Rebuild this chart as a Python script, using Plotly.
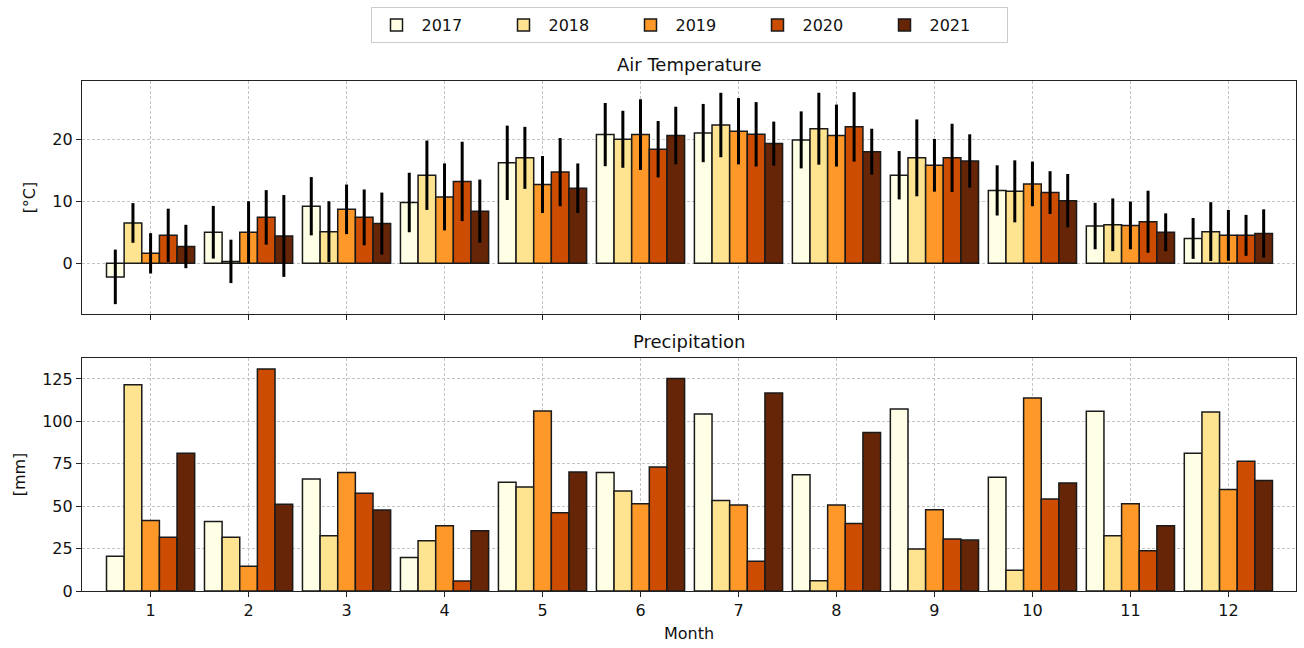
import plotly.graph_objects as go

months = [1, 2, 3, 4, 5, 6, 7, 8, 9, 10, 11, 12]
years = ["2017", "2018", "2019", "2020", "2021"]
colors = ["#ffffe5", "#fee391", "#fe9929", "#cc4c02", "#662506"]

temp_2017 = [-2.2, 5.0, 9.2, 9.8, 16.2, 20.75, 21.0, 19.9, 14.2, 11.75, 6.0, 4.0]
temp_2018 = [6.5, 0.3, 5.1, 14.2, 17.0, 20.0, 22.3, 21.7, 17.0, 11.6, 6.2, 5.1]
temp_2019 = [1.6, 5.0, 8.7, 10.7, 12.7, 20.75, 21.3, 20.6, 15.8, 12.8, 6.1, 4.5]
temp_2020 = [4.5, 7.4, 7.4, 13.2, 14.7, 18.4, 20.8, 22.0, 17.0, 11.4, 6.7, 4.5]
temp_2021 = [2.7, 4.4, 6.4, 8.4, 12.1, 20.6, 19.3, 18.0, 16.5, 10.1, 5.0, 4.8]

err_2017 = [4.4, 4.25, 4.7, 4.8, 6.0, 5.1, 4.7, 4.6, 3.9, 4.05, 3.75, 3.3]
err_2018 = [3.2, 3.5, 4.9, 5.6, 5.0, 4.6, 5.2, 5.8, 6.2, 5.0, 4.25, 4.75]
err_2019 = [3.25, 5.0, 4.0, 5.4, 4.6, 5.7, 5.35, 5.0, 4.25, 3.6, 3.85, 4.1]
err_2020 = [4.3, 4.4, 4.5, 6.4, 5.5, 4.55, 5.2, 5.6, 5.5, 3.45, 5.0, 3.3]
err_2021 = [3.5, 6.6, 5.0, 5.1, 4.0, 4.65, 3.55, 3.7, 4.3, 4.3, 3.05, 3.9]

prec_2017 = [20.5, 41.0, 66.0, 19.7, 64.1, 69.8, 104.3, 68.6, 107.3, 67.0, 105.9, 81.2]
prec_2018 = [121.6, 31.7, 32.5, 29.6, 61.3, 59.0, 53.4, 6.1, 24.8, 12.2, 32.5, 105.5]
prec_2019 = [41.6, 14.6, 69.8, 38.4, 106.1, 51.5, 50.7, 50.7, 47.9, 113.8, 51.5, 59.9]
prec_2020 = [31.7, 130.9, 57.6, 5.9, 46.1, 73.1, 17.5, 39.8, 30.6, 54.2, 23.7, 76.5]
prec_2021 = [81.2, 51.1, 47.7, 35.5, 70.2, 125.2, 116.7, 93.5, 30.0, 63.7, 38.4, 65.1]

temps = [temp_2017, temp_2018, temp_2019, temp_2020, temp_2021]
errs = [err_2017, err_2018, err_2019, err_2020, err_2021]
precs = [prec_2017, prec_2018, prec_2019, prec_2020, prec_2021]

fig = go.Figure()
for i, y in enumerate(years):
    fig.add_trace(go.Bar(
        x=months, y=temps[i], name=y, legendgroup=y,
        marker=dict(color=colors[i], line=dict(color="#1a1a1a", width=1.5)),
        error_y=dict(type="data", array=errs[i], visible=True, color="black",
                     thickness=3, width=0),
        xaxis="x", yaxis="y", showlegend=True,
    ))
for i, y in enumerate(years):
    fig.add_trace(go.Bar(
        x=months, y=precs[i], name=y, legendgroup=y,
        marker=dict(color=colors[i], line=dict(color="#1a1a1a", width=1.5)),
        xaxis="x2", yaxis="y2", showlegend=False,
    ))

axis_common = dict(
    showline=True, linecolor="#222", linewidth=1.2, mirror=True,
    showgrid=True, gridcolor="#c4c4c4", griddash="3px,2px", gridwidth=0.8,
    ticks="outside", ticklen=5, tickcolor="#222",
    tickfont=dict(family="DejaVu Sans", size=16, color="#111"),
    zeroline=False, automargin=False,
)

fig.update_layout(
    width=1304, height=648,
    margin=dict(l=82, r=8, t=81, b=57, autoexpand=False),
    paper_bgcolor="white", plot_bgcolor="white",
    barmode="group", bargap=0.1, bargroupgap=0,
    font=dict(family="DejaVu Sans", size=16, color="#111"),
    xaxis=dict(domain=[0, 1], anchor="y", range=[0.3, 12.69], tickvals=months,
               showticklabels=False, matches="x2", **axis_common),
    yaxis=dict(domain=[0.543, 1], anchor="x", range=[-8.2, 29.4],
               tickvals=[0, 10, 20],
               title=dict(text="[°C]", font=dict(size=16), standoff=12), **axis_common),
    xaxis2=dict(domain=[0, 1], anchor="y2", range=[0.3, 12.69], tickvals=months,
                title=dict(text="Month", font=dict(size=16), standoff=8), **axis_common),
    yaxis2=dict(domain=[0, 0.457], anchor="x2", range=[0, 137.4],
                tickvals=[0, 25, 50, 75, 100, 125],
                title=dict(text="[mm]", font=dict(size=16), standoff=12), **axis_common),
    legend=dict(orientation="h", x=0.5, xanchor="center", y=1.145, yanchor="top",
                bordercolor="#cccccc", borderwidth=1, bgcolor="white",
                font=dict(family="DejaVu Sans", size=16), itemwidth=40,
                entrywidth=72, entrywidthmode="pixels",
                traceorder="normal"),
    annotations=[
        dict(text="Air Temperature", x=0.5, y=1.0, xref="paper", yref="paper",
             xanchor="center", yanchor="bottom", yshift=4, showarrow=False,
             font=dict(family="DejaVu Sans", size=18, color="#111")),
        dict(text="Precipitation", x=0.5, y=0.457, xref="paper", yref="paper",
             xanchor="center", yanchor="bottom", yshift=4, showarrow=False,
             font=dict(family="DejaVu Sans", size=18, color="#111")),
    ],
)

fig.write_html("out.html", config={"displayModeBar": False},
               post_script="document.body.style.margin='0';document.body.style.overflow='hidden';")
